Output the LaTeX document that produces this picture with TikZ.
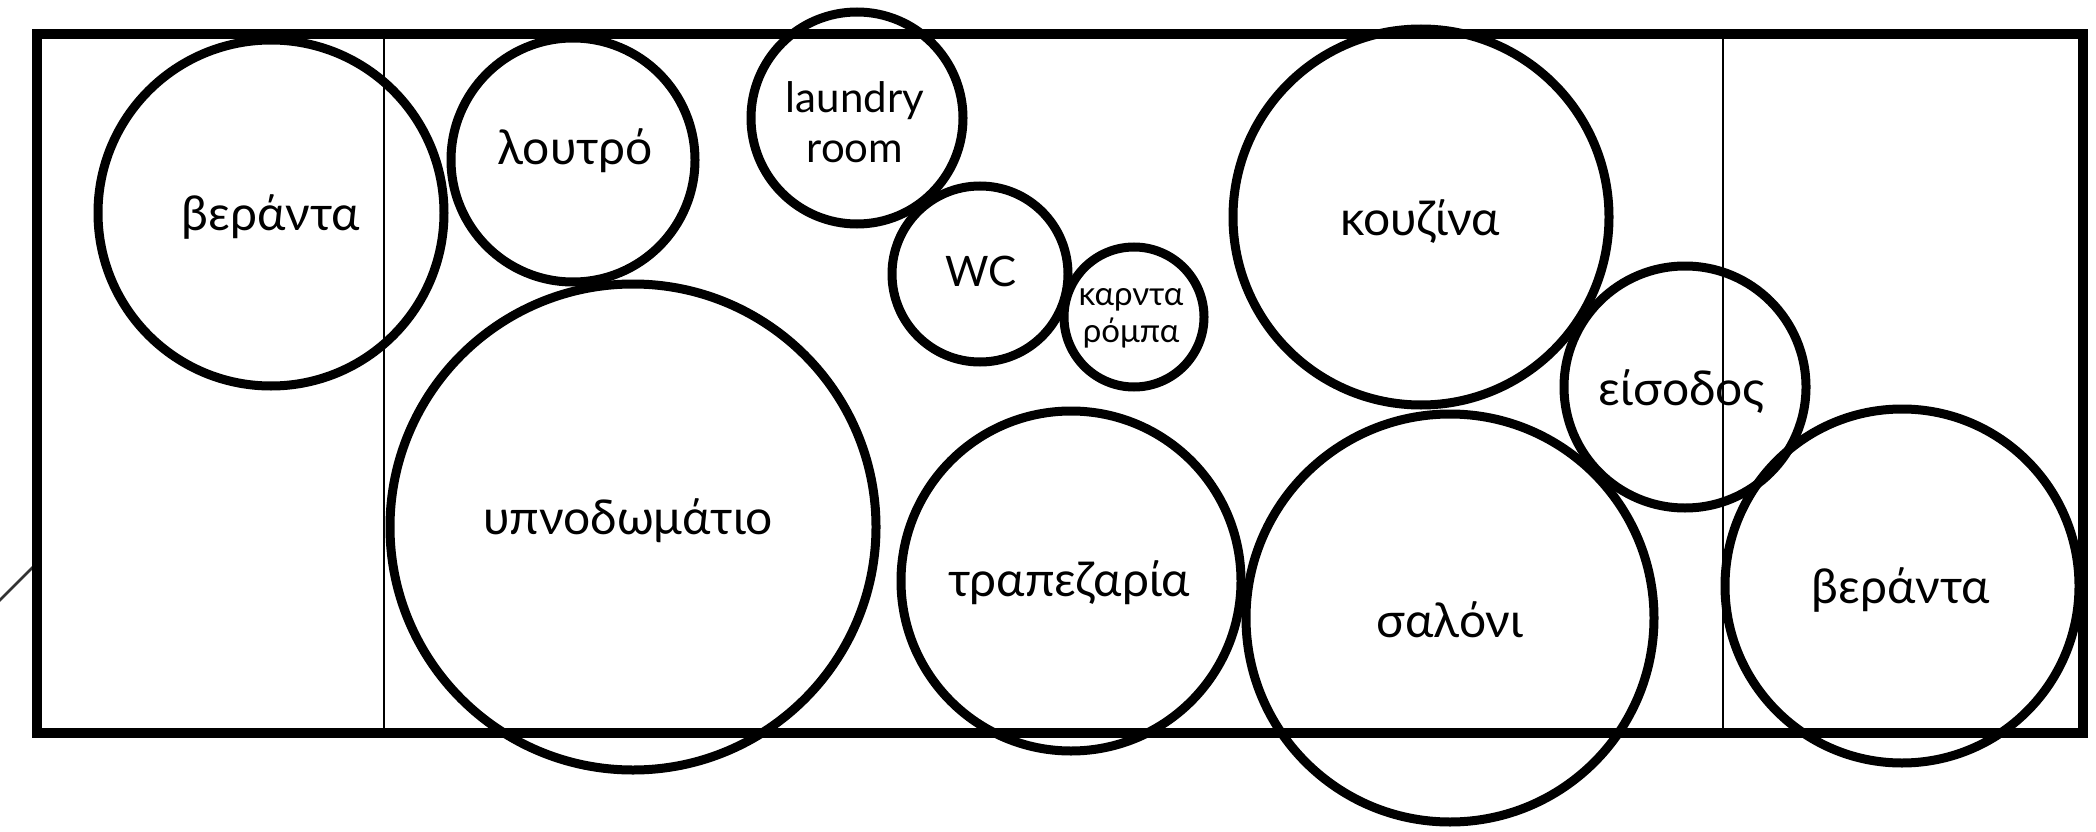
\documentclass[tikz,border=0pt]{standalone}
\usepackage{fontspec}
\setmainfont{Lato}
\begin{document}
\begin{tikzpicture}[x=1pt,y=-1pt,
  room/.style={draw=black,line width=9pt,circle,inner sep=0pt},
  label/.style={font=\fontsize{48}{54}\selectfont,align=center},
  midlabel/.style={font=\fontsize{42}{50}\selectfont,align=center},
  smalllabel/.style={font=\fontsize{33}{37}\selectfont,align=center},
  wall/.style={line width=10pt,line join=miter},
  thin/.style={line width=2pt}]
\useasboundingbox (0,0) rectangle (2096,832);
% outline
\coordinate (tl) at (37,34.5);
\coordinate (br) at (2083,732.5);
\coordinate (d1) at (-5,605);
\coordinate (d2) at (37,563);
\draw[thin,line width=2.5pt,black!80] (d1) -- (d2);
\coordinate (v1t) at (384,34.5);
\coordinate (v1b) at (384,732.5);
\coordinate (v2t) at (1723,34.5);
\coordinate (v2b) at (1723,732.5);
\draw[thin] (v1t) -- (v1b);
\draw[thin] (v2t) -- (v2b);
\draw[wall] (tl) rectangle (br);
% rooms
\node[room,minimum size=346pt] (ver1) at (271,213) {};
\node[room,minimum size=244pt] (lout) at (573,160) {};
\node[room,minimum size=212pt] (laun) at (857,118) {};
\node[room,minimum size=176pt] (wc) at (980,274) {};
\node[room,minimum size=140pt] (kar) at (1134,317) {};
\node[room,minimum size=486pt] (ypn) at (633,527) {};
\node[room,minimum size=340pt] (trap) at (1071,581) {};
\node[room,minimum size=376pt] (kouz) at (1421,217) {};
\node[room,minimum size=242pt] (eis) at (1685,387) {};
\node[room,minimum size=408pt] (sal) at (1450,618) {};
\node[room,minimum size=354pt] (ver2) at (1902,586) {};
% labels
\node[label] (tver1) at (271,217) {βεράντα};
\node[label] (tlout) at (575,151) {λουτρό};
\node[midlabel] (tlaun) at (855,122) {laundry\\room};
\node[midlabel] (twc) at (981,271) {WC};
\node[smalllabel] (tkar) at (1131,318) {καρντα\\ρόμπα};
\node[label] (typn) at (628,521) {υπνοδωμάτιο};
\node[label] (ttrap) at (1069,583) {τραπεζαρία};
\node[label] (tkouz) at (1420,222) {κουζίνα};
\node[label] (teis) at (1682,392) {είσοδος};
\node[label] (tsal) at (1450,620) {σαλόνι};
\node[label] (tver2) at (1901,590) {βεράντα};
\end{tikzpicture}
\end{document}
